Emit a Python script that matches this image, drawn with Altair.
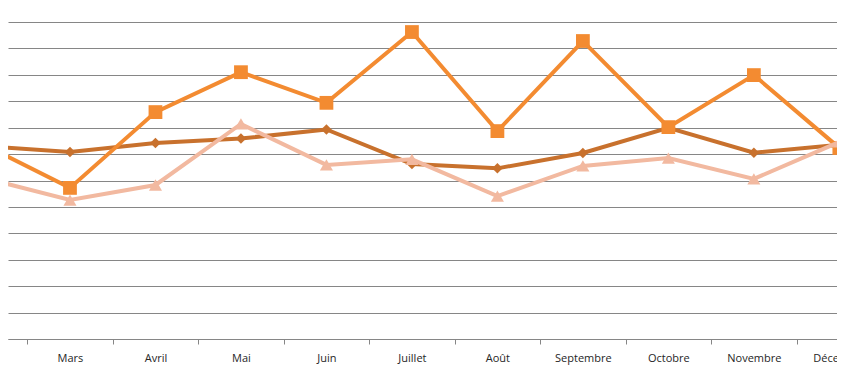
import altair as alt
import pandas as pd

all_months = ["Janvier", "Février", "Mars", "Avril", "Mai", "Juin", "Juillet",
              "Août", "Septembre", "Octobre", "Novembre", "Décembre"]
months = all_months[1:]

series_names = ["Série A", "Série B", "Série C"]
serie_a = [7.35, 5.72, 8.59, 10.1, 8.94, 11.62, 7.87, 11.28, 8.02, 9.99, 7.23]
serie_b = [7.3, 7.08, 7.42, 7.59, 7.93, 6.62, 6.46, 7.04, 7.99, 7.05, 7.35]
serie_c = [6.09, 5.26, 5.83, 8.14, 6.59, 6.8, 5.41, 6.55, 6.85, 6.06, 7.46]
colors = ["#F38B31", "#C8712D", "#F2B9A0"]
shapes = ["square", "diamond", "triangle-up"]
sizes = [190, 110, 170]

rows = []
for name, vals in zip(series_names, [serie_a, serie_b, serie_c]):
    for m, v in zip(months, vals):
        rows.append({"serie": name, "mois": m, "idx": all_months.index(m), "valeur": v})
df = pd.DataFrame(rows)

x_scale = alt.Scale(domain=[1.275, 11.3], nice=False, zero=False)
y_scale = alt.Scale(domain=[0, 12.53], nice=False)

label_expr = "[" + ",".join("'" + m + "'" for m in all_months) + "][datum.value]"

x_axis = alt.Axis(values=list(range(1, 12)), labelExpr=label_expr, title=None,
                  grid=False, tickOffset=-42.75, labelOffset=42.75, tickSize=5,
                  tickColor="#868686", domainColor="#868686", labelFlush=False,
                  labelFont="Open Sans", labelFontSize=11, labelColor="#262626",
                  labelPadding=8, labelOverlap=False)
y_axis = alt.Axis(values=list(range(0, 13)), labels=False, ticks=False, domain=False,
                  title=None, grid=True, gridColor="#868686", gridWidth=1, gridOpacity=1)

X = alt.X("idx:Q", scale=x_scale, axis=x_axis)
Y = alt.Y("valeur:Q", scale=y_scale, axis=y_axis)

base = alt.Chart(df)
layers = []
for name, col, shp, sz in [(series_names[1], colors[1], shapes[1], sizes[1]),
                           (series_names[0], colors[0], shapes[0], sizes[0]),
                           (series_names[2], colors[2], shapes[2], sizes[2])]:
    sub = base.transform_filter(alt.datum.serie == name)
    line = sub.mark_line(color=col, strokeWidth=4, clip=True).encode(x=X, y=Y)
    pts = sub.mark_point(color=col, filled=True, opacity=1, shape=shp, size=sz, clip=True).encode(x=X, y=Y)
    layers += [line, pts]

# plot spans 857px (1.275 -> 11.3 at 85.5 px/unit); negative right padding keeps the page at 829px
chart = alt.layer(*layers).properties(
    width=857, height=331,
    autosize=alt.AutoSizeParams(type="none"),
    padding={"left": 0, "top": 0, "right": -28, "bottom": 36},
).configure_view(stroke=None)

chart.save("out.html", embed_options={"renderer": "svg", "actions": False})
